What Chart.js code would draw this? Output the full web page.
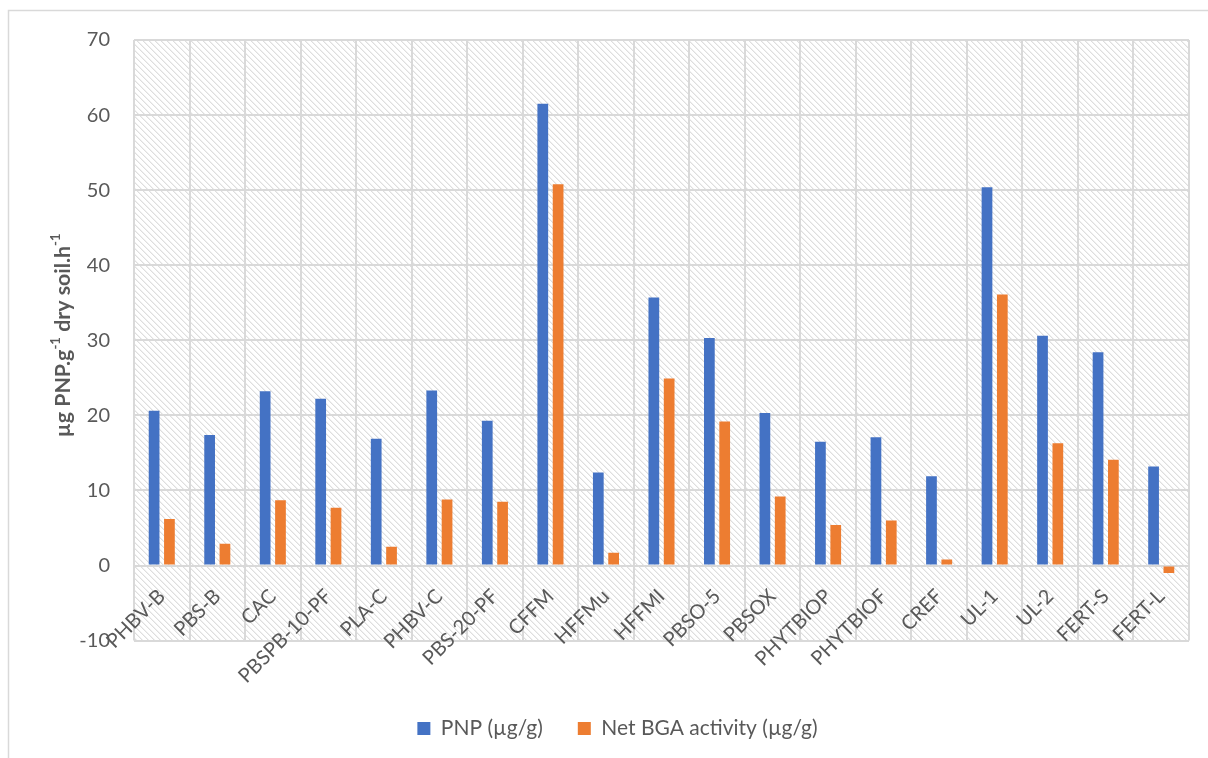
<!DOCTYPE html>
<html>
<head>
<meta charset="utf-8">
<script src="https://cdn.jsdelivr.net/npm/chart.js@4/dist/chart.umd.min.js"></script>
<style>
  html, body { margin: 0; padding: 0; background: #ffffff; }
  #wrap { position: relative; width: 1208px; height: 758px; }
</style>
</head>
<body>
<div id="wrap"><canvas id="chart" width="1208" height="758"></canvas></div>
<script>
// Treatments on the x axis
const categories = ['PHBV-B', 'PBS-B', 'CAC', 'PBSPB-10-PF', 'PLA-C', 'PHBV-C', 'PBS-20-PF',
  'CFFM', 'HFFMu', 'HFFMI', 'PBSO-5', 'PBSOX', 'PHYTBIOP', 'PHYTBIOF', 'CREF',
  'UL-1', 'UL-2', 'FERT-S', 'FERT-L'];

// PNP released (µg/g)
const pnpValues = [20.6, 17.4, 23.2, 22.2, 16.9, 23.3, 19.3, 61.5, 12.4, 35.7,
  30.3, 20.3, 16.5, 17.1, 11.9, 50.4, 30.6, 28.4, 13.2];

// Net beta-glucosidase activity (µg/g)
const bgaValues = [6.2, 2.9, 8.7, 7.7, 2.5, 8.8, 8.5, 50.8, 1.7, 24.9,
  19.2, 9.2, 5.4, 6.0, 0.8, 36.1, 16.3, 14.1, -1.0];

const seriesNames = ['PNP (\u00b5g/g)', 'Net BGA activity (\u00b5g/g)'];
const yTicks = { min: -10, max: 70, step: 10 };

const TEXT = '#595959';
const GRID = '#d9d9d9';
const FONT = 'Lato, "Open Sans", sans-serif';

// Diagonal hatch used as the plot-area background
function makeHatch(ctx) {
  const n = 6;
  const tile = document.createElement('canvas');
  tile.width = n; tile.height = n;
  const t = tile.getContext('2d');
  const img = t.createImageData(n, n);
  for (let y = 0; y < n; y++) {
    for (let x = 0; x < n; x++) {
      const k = ((x - y) % n + n) % n;
      let v = 255;
      if (k === 0) v = 222;
      else if (k === 1) v = 240;
      const i = (y * n + x) * 4;
      img.data[i] = v; img.data[i + 1] = v; img.data[i + 2] = v; img.data[i + 3] = 255;
    }
  }
  t.putImageData(img, 0, 0);
  return ctx.createPattern(tile, 'repeat');
}

const backdrop = {
  id: 'backdrop',
  beforeDraw(chart) {
    const { ctx, chartArea: a } = chart;
    ctx.save();
    // outer frame of the chart object
    ctx.strokeStyle = GRID;
    ctx.lineWidth = 1.5;
    ctx.beginPath();
    ctx.moveTo(8.5, chart.height + 2);
    ctx.lineTo(8.5, 10.5);
    ctx.lineTo(chart.width + 2, 10.5);
    ctx.stroke();
    // hatched plot area
    ctx.fillStyle = makeHatch(ctx);
    ctx.fillRect(a.left, a.top, a.right - a.left, a.bottom - a.top);
    ctx.restore();
  }
};

// Rotated y-axis title with superscript exponents
const yTitle = {
  id: 'yTitle',
  afterDraw(chart) {
    const { ctx, chartArea: a } = chart;
    const parts = [
      { t: '\u00b5g PNP.g', sup: false },
      { t: '-1', sup: true },
      { t: ' dry soil.h', sup: false },
      { t: '-1', sup: true }
    ];
    const span = 204;           // length of the title along the axis
    const measure = size => {
      let w = 0;
      parts.forEach(p => {
        ctx.font = 'bold ' + (p.sup ? size * 0.62 : size) + 'px ' + FONT;
        w += ctx.measureText(p.t).width;
      });
      return w;
    };
    ctx.save();
    const size = 20 * span / measure(20);
    let total = 0;
    parts.forEach(p => {
      ctx.font = 'bold ' + (p.sup ? size * 0.62 : size) + 'px ' + FONT;
      p.w = ctx.measureText(p.t).width; total += p.w;
    });
    ctx.translate(63, (a.top + a.bottom) / 2 - 5);
    ctx.rotate(-Math.PI / 2);
    ctx.fillStyle = TEXT;
    ctx.textBaseline = 'middle';
    let x = -total / 2;
    parts.forEach(p => {
      ctx.font = 'bold ' + (p.sup ? size * 0.62 : size) + 'px ' + FONT;
      ctx.fillText(p.t, x, p.sup ? -size * 0.36 : 0);
      x += p.w;
    });
    ctx.restore();
  }
};

new Chart(document.getElementById('chart'), {
  type: 'bar',
  data: {
    labels: categories,
    datasets: [
      { label: seriesNames[0], data: pnpValues, backgroundColor: '#4472C4' },
      { label: seriesNames[1], data: bgaValues, backgroundColor: '#ED7D31' }
    ]
  },
  options: {
    responsive: false,
    animation: false,
    devicePixelRatio: 1,
    categoryPercentage: 0.552,
    barPercentage: 0.70,
    layout: { padding: { left: 46, right: 19, top: 40, bottom: 9 } },
    plugins: {
      legend: {
        position: 'bottom',
        title: { display: true, text: ' ', font: { size: 12 }, padding: { top: 28, bottom: 0 } },
        labels: {
          boxWidth: 13, boxHeight: 13, padding: 35,
          color: TEXT, font: { family: FONT, size: 21 }
        }
      },
      tooltip: { enabled: false }
    },
    scales: {
      x: {
        position: { y: 0 },
        grid: {
          color: GRID, lineWidth: 2, offset: true,
          drawTicks: true, tickLength: 16, tickColor: 'rgba(0,0,0,0)'
        },
        border: { display: false },
        ticks: {
          autoSkip: false, minRotation: 45, maxRotation: 45,
          color: TEXT, font: { family: FONT, size: 20 }
        }
      },
      y: {
        min: yTicks.min, max: yTicks.max,
        grid: { color: GRID, lineWidth: 2, drawTicks: false },
        border: { display: false },
        ticks: {
          stepSize: yTicks.step, padding: 24,
          color: TEXT, font: { family: FONT, size: 20 }
        },
        afterFit(scale) { scale.width = 88; }
      }
    }
  },
  plugins: [backdrop, yTitle]
});
</script>
</body>
</html>
